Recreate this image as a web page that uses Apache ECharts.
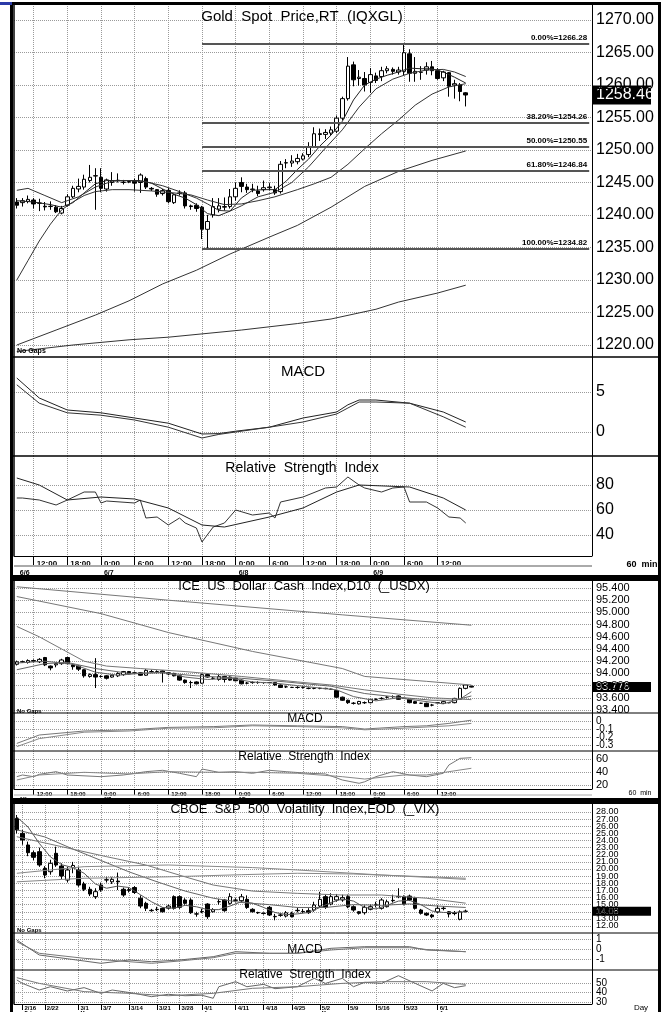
<!DOCTYPE html>
<html><head><meta charset="utf-8">
<script src="https://cdn.jsdelivr.net/npm/echarts@6/dist/echarts.min.js"></script>
<style>html,body{margin:0;padding:0;background:#fff}#c{width:666px;height:1012px}</style>
</head><body><div id="c"></div>
<script>
// ================= DATA =================
// ---- Gold (hourly) ----
const goldTickIdx  = [3,9,15,21,27,33,39,45,51,57,63,69,75];
const goldTickTime = ["12:00","18:00","0:00","6:00","12:00","18:00","0:00","6:00","12:00","18:00","0:00","6:00","12:00"];
const goldDateIdx  = [0,15,39,63];
const goldDateText = ["6/6","6/7","6/8","6/9"];
const goldYTicks = [1220,1270,5];
// [open, close, low, high]
const goldOHLC = [
[1242.0,1241.5,1241.0,1242.6],[1241.9,1242.2,1241.3,1242.6],[1242.1,1242.4,1241.8,1243.0],[1242.3,1241.7,1241.0,1242.6],
[1241.8,1241.85,1240.6,1242.5],[1241.35,1241.25,1240.7,1242.0],[1241.3,1241.35,1240.8,1242.1],[1241.2,1240.5,1240.3,1241.5],
[1240.3,1241.0,1240.1,1241.4],[1241.5,1242.8,1241.3,1243.2],[1242.8,1244.1,1242.6,1244.5],[1244.0,1244.4,1243.5,1245.6],
[1244.3,1245.5,1243.9,1246.2],[1245.3,1245.8,1245.0,1247.7],[1246.0,1246.05,1240.8,1247.2],[1245.8,1244.1,1243.5,1247.2],
[1244.0,1245.4,1243.6,1245.6],[1245.0,1245.3,1244.5,1246.6],[1245.3,1245.35,1245.0,1246.4],[1245.0,1245.05,1244.7,1245.4],
[1245.05,1245.15,1244.9,1245.3],[1245.2,1244.9,1243.6,1245.6],[1245.0,1246.15,1243.4,1246.4],[1245.6,1244.3,1244.0,1245.9],
[1244.1,1244.0,1243.7,1244.3],[1243.9,1243.2,1242.8,1244.0],[1243.3,1243.75,1243.0,1244.0],[1243.8,1242.05,1241.8,1244.2],
[1241.9,1243.1,1241.7,1243.3],[1243.4,1243.3,1243.0,1243.8],[1243.4,1241.4,1241.0,1243.7],[1241.4,1241.3,1240.8,1241.6],
[1241.5,1241.0,1240.5,1241.8],[1241.2,1237.8,1236.3,1241.4],[1237.8,1239.0,1234.82,1240.0],[1240.0,1241.3,1239.6,1242.6],
[1240.9,1241.4,1240.4,1242.6],[1241.2,1241.3,1240.7,1242.7],[1241.3,1242.8,1241.0,1244.0],[1242.8,1244.1,1242.2,1245.0],
[1245.0,1244.4,1243.5,1245.8],[1244.3,1243.9,1243.4,1244.8],[1243.9,1244.0,1243.5,1244.8],[1243.7,1243.3,1242.9,1244.5],
[1243.9,1244.2,1243.6,1245.3],[1244.2,1244.3,1243.8,1244.9],[1243.9,1243.4,1243.1,1244.5],[1243.6,1247.8,1243.3,1248.3],
[1248.0,1248.05,1247.2,1248.6],[1248.0,1248.3,1247.4,1249.2],[1248.2,1248.7,1247.8,1249.4],[1248.6,1249.1,1248.4,1249.5],
[1249.3,1250.5,1248.9,1251.2],[1250.5,1252.5,1250.3,1253.5],[1252.5,1252.4,1251.4,1253.3],[1252.4,1252.7,1251.7,1253.2],
[1252.6,1253.1,1252.2,1253.6],[1252.9,1254.9,1252.6,1255.3],[1254.9,1257.9,1254.6,1258.2],[1257.9,1262.9,1257.6,1264.3],
[1263.1,1260.8,1259.8,1263.6],[1261.0,1261.2,1259.9,1262.3],[1261.0,1260.0,1259.0,1262.0],[1260.4,1261.6,1258.8,1262.6],
[1261.4,1260.7,1260.3,1261.9],[1261.3,1262.2,1260.6,1262.8],[1262.2,1262.5,1261.8,1262.9],[1262.4,1262.1,1261.6,1262.7],
[1262.0,1262.3,1261.6,1262.8],[1262.1,1264.97,1261.5,1266.28],[1264.8,1261.8,1260.5,1265.5],[1261.8,1262.1,1260.5,1264.3],
[1261.95,1262.0,1260.8,1262.9],[1262.3,1262.8,1261.6,1263.5],[1262.8,1262.2,1261.5,1263.7],[1262.2,1261.0,1260.8,1262.6],
[1261.1,1262.0,1260.6,1262.2],[1261.9,1259.8,1258.2,1262.0],[1260.0,1260.2,1257.9,1260.8],[1260.0,1259.0,1257.5,1260.3],
[1258.8,1258.46,1256.7,1258.9]];
const goldLast = 1258.46;
const goldMa5 = [[0,1242.2],[3,1242.0],[6,1241.6],[8,1241.2],[10,1241.9],[12,1243.4],[14,1244.8],[16,1245.3],[19,1245.3],[22,1245.3],[24,1244.9],[26,1244.0],[28,1243.2],[30,1242.6],[32,1241.6],[34,1240.2],[36,1239.9],[38,1240.6],[40,1242.6],[42,1243.8],[44,1243.9],[46,1243.9],[48,1245.2],[50,1247.0],[52,1248.6],[54,1250.6],[56,1252.3],[58,1254.4],[60,1257.7],[62,1260.0],[64,1260.9],[66,1261.5],[68,1262.0],[70,1262.6],[72,1262.5],[74,1262.5],[76,1262.0],[78,1261.2],[80,1260.3]];
const goldMa10 = [[0,1243.8],[2,1244.1],[5,1243.0],[8,1241.9],[11,1242.8],[14,1244.3],[17,1245.2],[20,1245.3],[23,1245.1],[26,1244.5],[29,1243.6],[32,1242.6],[34,1241.7],[36,1240.7],[38,1240.6],[40,1241.4],[43,1242.8],[46,1243.5],[49,1245.0],[52,1247.4],[55,1250.3],[58,1253.1],[61,1256.6],[64,1259.4],[67,1260.9],[70,1261.8],[73,1262.3],[76,1262.4],[78,1262.0],[80,1261.3]];
const goldMa20 = [[0,1230.0],[2,1233.0],[4,1236.0],[6,1238.6],[8,1240.8],[10,1242.0],[12,1243.0],[14,1243.6],[17,1243.9],[20,1243.9],[24,1243.7],[28,1243.4],[31,1243.1],[34,1242.3],[37,1241.6],[40,1241.7],[43,1242.2],[46,1242.8],[50,1243.9],[53,1244.8],[56,1245.8],[59,1247.8],[62,1250.2],[65,1252.5],[68,1254.6],[71,1256.9],[74,1258.6],[77,1259.7],[80,1260.2]];
const goldMa50 = [[0,1220.0],[7,1222.3],[14,1224.6],[20,1226.8],[26,1229.4],[32,1231.5],[38,1234.0],[45,1236.6],[50,1238.4],[56,1241.2],[62,1244.4],[68,1246.7],[74,1248.4],[80,1249.85]];
const goldMa100 = [[0,1219.0],[10,1220.0],[20,1220.8],[27,1221.2],[40,1222.3],[50,1223.3],[56,1224.0],[64,1225.5],[68,1226.6],[75,1228.0],[80,1229.2]];
const fibPct  = ["0.00%","38.20%","50.00%","61.80%","100.00%"];
const fibVals = [1266.28,1254.26,1250.55,1246.84,1234.82];
const fibStartIdx = 33;
const goldMacd   = [[0,6.75],[4,4.25],[9,2.75],[15,2.4],[21,1.75],[27,1.1],[33,-0.25],[36,-0.2],[39,0.1],[45,0.6],[51,1.75],[57,2.5],[59,3.4],[61,4.0],[64,4.0],[70,3.6],[76,2.5],[80,1.25]];
const goldSignal = [[0,5.9],[4,3.6],[9,2.4],[15,2.1],[21,1.5],[27,0.6],[31,-0.3],[33,-0.75],[36,-0.3],[39,0.0],[45,0.6],[51,1.25],[57,2.25],[59,3.0],[61,3.75],[64,3.75],[70,3.6],[76,1.9],[80,0.6]];
const goldRsi = [[0,69.6],[1,69.6],[4,68],[7,64],[9,68],[12,74.4],[14,74.4],[15,65.6],[16,67.2],[21,65.6],[22,68],[23,53.6],[25,54.4],[27,48],[29,53.6],[30,49.6],[32,45.6],[33,34.4],[35,46.4],[37,49.6],[39,60],[42,56],[45,57.6],[46,53.6],[47,66.4],[51,70.4],[55,77.6],[57,78.4],[59,86.4],[61,80],[62,77.6],[65,74.4],[67,77.6],[69,78.4],[70,66.4],[73,66.4],[75,61.6],[77,54.4],[79,53.6],[80,49.6]];
const goldRsiMa = [[0,85.6],[4,80],[9,68],[15,70.4],[21,68.8],[27,61.6],[33,48],[37,46.4],[45,54.4],[51,61.6],[57,74.4],[61,80],[70,78.4],[76,69.6],[80,60]];

// ---- US Dollar Index (hourly) ----
const usdOHLC = [
[94.15,94.19,94.13,94.21],[94.19,94.19,94.17,94.21],[94.18,94.21,94.16,94.23],[94.21,94.2,94.18,94.23],[94.19,94.23,94.17,94.25],
[94.26,94.14,94.12,94.27],[94.12,94.09,94.05,94.13],[94.14,94.16,94.1,94.17],[94.16,94.22,94.14,94.24],[94.26,94.16,94.15,94.27],
[94.14,94.11,94.06,94.15],[94.12,94.07,94.04,94.13],[94.06,93.96,93.93,94.07],[93.95,93.98,93.93,94.0],[93.98,93.94,93.76,94.25],
[93.95,93.95,93.93,93.97],[93.96,93.92,93.9,93.97],[93.94,93.97,93.93,93.98],[93.96,94.0,93.94,94.02],[93.98,94.03,93.96,94.04],
[94.03,93.99,93.98,94.04],[94.01,94.01,93.99,94.03],[94.01,93.97,93.96,94.02],[93.97,94.05,93.96,94.07],[94.03,94.03,94.01,94.06],
[94.03,94.03,94.0,94.05],[94.04,94.01,93.85,94.05],[94.01,93.99,93.97,94.02],[94.0,93.96,93.95,94.01],[93.96,93.89,93.88,93.97],
[93.89,93.85,93.83,93.9],[93.85,93.85,93.76,93.88],[93.86,93.83,93.82,93.87],[93.84,93.98,93.83,94.0],[93.98,93.94,93.93,93.99],
[93.92,93.92,93.9,93.94],[93.9,93.95,93.88,93.98],[93.95,93.9,93.85,93.96],[93.94,93.89,93.88,93.95],[93.92,93.88,93.87,93.93],
[93.89,93.83,93.82,93.9],[93.84,93.84,93.82,93.86],[93.85,93.85,93.83,93.87],[93.85,93.85,93.83,93.87],[93.85,93.85,93.83,93.86],
[93.85,93.85,93.84,93.86],[93.85,93.81,93.8,93.86],[93.81,93.77,93.76,93.82],[93.78,93.78,93.76,93.8],[93.77,93.77,93.76,93.78],
[93.77,93.77,93.75,93.79],[93.77,93.77,93.75,93.79],[93.755,93.755,93.74,93.77],[93.755,93.755,93.74,93.77],[93.755,93.755,93.74,93.765],
[93.755,93.75,93.74,93.765],[93.74,93.74,93.73,93.75],[93.72,93.61,93.6,93.73],[93.61,93.56,93.55,93.62],[93.56,93.52,93.5,93.57],
[93.51,93.51,93.49,93.53],[93.5,93.54,93.49,93.55],[93.52,93.52,93.5,93.54],[93.52,93.575,93.51,93.58],[93.575,93.575,93.56,93.59],
[93.59,93.59,93.57,93.61],[93.61,93.61,93.59,93.63],[93.62,93.62,93.6,93.64],[93.63,93.575,93.57,93.64],[93.59,93.59,93.58,93.6],
[93.575,93.52,93.51,93.58],[93.537,93.51,93.5,93.55],[93.51,93.51,93.5,93.52],[93.51,93.455,93.45,93.52],[93.48,93.48,93.46,93.5],
[93.52,93.52,93.51,93.53],[93.51,93.537,93.5,93.55],[93.52,93.52,93.51,93.53],[93.52,93.59,93.51,93.6],[93.575,93.755,93.57,93.77],
[93.755,93.81,93.74,93.82],[93.79,93.776,93.77,93.80]];
const usdLast = 93.776;
const usdMa10  = [[0,94.17],[5,94.2],[10,94.15],[14,94.02],[18,93.97],[22,94.0],[26,94.02],[30,93.94],[34,93.9],[38,93.92],[42,93.86],[46,93.84],[50,93.8],[54,93.76],[57,93.73],[60,93.62],[64,93.55],[68,93.6],[72,93.55],[76,93.5],[79,93.58],[81,93.7]];
const usdMa20  = [[0,94.06],[5,94.16],[9,94.18],[14,94.08],[20,94.0],[26,94.01],[32,93.96],[40,93.92],[48,93.86],[56,93.79],[62,93.67],[68,93.61],[74,93.56],[78,93.56],[81,93.63]];
const usdMa50  = [[0,94.77],[4,94.6],[8,94.4],[12,94.2],[16,94.12],[22,94.08],[30,94.03],[40,93.95],[50,93.86],[56,93.81],[62,93.73],[68,93.66],[74,93.6],[81,93.57]];
const usdMa100 = [[0,95.26],[15,94.98],[27,94.67],[42,94.36],[58,94.08],[62,93.95],[73,93.87],[81,93.81]];
const usdMa200 = [[0,95.42],[27,95.2],[58,94.96],[81,94.79]];
const usdMacd   = [[0,-0.28],[4,-0.175],[12,-0.125],[20,-0.11],[27,-0.08],[35,-0.07],[42,-0.05],[50,-0.06],[58,-0.07],[62,-0.1],[69,-0.07],[73,-0.06],[77,-0.03],[81,0.01]];
const usdSignal = [[0,-0.32],[4,-0.22],[12,-0.14],[20,-0.125],[27,-0.09],[35,-0.085],[42,-0.06],[50,-0.07],[58,-0.085],[62,-0.11],[69,-0.09],[77,-0.06],[81,-0.03]];
const usdRsi   = [[0,32.8],[1,35.4],[3,32.8],[4,36.4],[7,40.5],[9,35.4],[15,32.8],[19,35.4],[23,40.5],[26,42.6],[29,38],[32,32.8],[33,44.6],[36,39.5],[39,40.5],[42,38],[45,42.6],[48,40.5],[52,38],[55,37],[58,27.7],[61,22.6],[62,25],[64,32.8],[67,40.5],[70,35.4],[73,32.8],[76,38],[77,50.8],[79,61],[81,62]];
const usdRsiMa = [[0,27.7],[4,35.4],[12,39.5],[20,37],[27,40.5],[35,39.5],[42,39.5],[50,38],[58,32.8],[62,29.2],[69,35.4],[73,35.4],[77,40.5],[81,45.7]];

// ---- VIX (daily) ----
const vixDates = ["2/12","2/16","2/17","2/18","2/19","2/22","2/23","2/24","2/25","2/26","2/29","3/1","3/2","3/3","3/4","3/7","3/8","3/9","3/10","3/11","3/14","3/15","3/16","3/17","3/18","3/21","3/22","3/23","3/24","3/28","3/29","3/30","3/31","4/1","4/4","4/5","4/6","4/7","4/8","4/11","4/12","4/13","4/14","4/15","4/18","4/19","4/20","4/21","4/22","4/25","4/26","4/27","4/28","4/29","5/2","5/3","5/4","5/5","5/6","5/9","5/10","5/11","5/12","5/13","5/16","5/17","5/18","5/19","5/20","5/23","5/24","5/25","5/26","5/27","5/31","6/1","6/2","6/3","6/6","6/7","6/8"];
const vixTickDates = ["2/16","2/22","3/1","3/7","3/14","3/21","3/28","4/1","4/11","4/18","4/25","5/2","5/9","5/16","5/23","6/1"];
const vixMonthAt   = {"2/16":"Feb","3/1":"Mar","4/1":"Apr","5/2":"May","6/1":"Jun"};
const vixOHLC = [
[27.11,25.47,25.0,27.58],[25.0,24.07,23.4,25.47],[23.37,22.29,21.8,23.84],[22.29,21.64,21.2,22.6],[22.43,20.56,20.3,23.0],
[20.09,19.16,18.7,20.4],[19.62,20.8,19.2,21.3],[22.2,20.56,20.3,23.13],[20.42,19.02,18.6,20.8],[18.45,19.86,18.1,20.3],
[20.2,20.5,19.4,21.0],[19.86,17.75,17.5,20.33],[17.9,17.15,16.9,18.2],[17.15,16.49,16.2,17.5],[16.12,16.82,15.8,17.3],
[17.75,17.05,16.8,18.1],[18.45,18.5,18.1,18.9],[18.2,18.55,17.9,18.9],[18.3,18.2,17.05,19.5],[17.15,16.35,16.1,17.4],
[17.1,17.0,16.7,17.4],[17.4,16.7,16.5,17.6],[15.9,14.8,14.5,16.3],[15.18,14.48,14.1,15.4],[14.15,14.2,14.0,14.4],
[14.3,14.35,14.1,14.7],[14.48,14.0,13.9,14.6],[14.5,14.8,14.3,15.0],[16.12,14.48,14.3,16.3],[16.12,14.62,14.4,16.3],
[15.65,15.18,15.0,15.9],[15.65,13.87,13.7,15.9],[13.7,13.68,13.3,14.0],[14.0,14.05,13.8,14.4],[15.08,13.31,13.0,15.2],
[14.0,14.3,13.9,14.5],[15.4,15.42,15.0,15.8],[15.65,14.15,14.0,15.8],[15.18,16.12,15.0,16.6],[15.6,15.65,15.3,15.9],
[15.55,16.1,15.3,16.5],[15.74,14.6,14.4,16.3],[14.34,14.0,13.9,14.5],[13.9,13.85,13.7,14.0],[13.8,13.75,13.6,13.9],
[14.62,13.54,13.4,14.8],[13.3,13.35,12.8,13.7],[13.55,13.5,13.3,13.8],[13.4,13.85,13.2,14.1],[13.78,13.31,13.2,14.0],
[14.15,14.2,13.9,14.6],[14.05,14.0,13.8,14.4],[14.15,13.87,13.7,14.5],[14.24,14.94,14.0,15.4],[14.8,15.74,14.6,16.8],
[16.12,14.62,14.4,16.4],[15.08,16.12,14.9,16.6],[15.65,16.12,15.4,16.5],[15.65,15.98,15.4,16.4],[16.12,14.71,14.5,16.4],
[14.71,14.24,14.0,14.9],[14.0,13.78,13.6,14.1],[13.87,14.62,13.6,14.9],[14.34,14.71,14.2,15.0],[14.95,14.97,14.6,15.4],
[14.48,15.65,14.3,15.9],[14.71,15.4,14.6,15.7],[15.55,15.6,15.3,16.4],[16.1,16.15,15.9,17.3],[16.12,15.08,14.9,16.3],
[16.2,15.65,15.5,16.4],[15.9,14.48,14.3,16.1],[14.24,13.78,13.6,14.4],[13.78,13.54,13.4,13.9],[13.54,13.31,13.1,13.7],
[13.97,14.48,13.8,14.9],[14.5,14.45,14.2,14.8],[14.0,13.68,13.2,14.1],[13.8,13.75,13.5,14.1],[12.94,13.99,12.8,14.2],
[14.05,14.08,13.9,14.3]];
const vixLast = 14.08;
const vixMa5   = [[0,27.3],[2,25.9],[4,23.6],[6,21.7],[8,20.6],[10,20.2],[12,19.4],[14,17.9],[16,17.3],[18,17.6],[20,17.4],[22,16.4],[24,15.4],[26,14.6],[28,14.5],[30,14.9],[32,14.7],[34,14.3],[36,14.3],[38,14.8],[40,15.4],[42,15.2],[44,14.6],[46,13.9],[48,13.6],[50,13.7],[52,13.9],[54,14.6],[56,15.3],[58,15.8],[60,15.5],[62,14.6],[64,14.4],[66,14.9],[68,15.5],[70,15.6],[72,15.0],[74,14.1],[76,13.9],[78,13.9],[80,14.0]];
const vixMa20  = [[0,25.5],[5,24.5],[10,22.8],[15,21.2],[20,19.6],[25,18.2],[30,16.9],[35,15.9],[40,15.3],[45,15.0],[50,14.6],[55,14.6],[60,15.0],[65,14.9],[70,15.1],[75,14.8],[80,14.6]];
const vixMa50  = [[0,24.53],[8,23.13],[16,21.73],[23,20.56],[30,18.9],[35,17.75],[42,16.9],[50,16.58],[58,16.35],[65,16.35],[73,15.9],[80,15.2]];
const vixMa100 = [[0,19.4],[12,20.33],[27,20.56],[42,20.2],[50,19.86],[65,19.16],[80,18.55]];
const vixMa200 = [[0,18.2],[12,18.7],[27,18.9],[40,19.2],[50,19.4],[60,19.3],[70,19.0],[80,18.7]];
const vixMacd   = [[0,0.9],[4,-0.6],[12,-1.2],[15,-1.43],[20,-1.1],[24,-1.27],[29,-1.1],[35,-0.77],[39,-0.27],[45,-0.43],[50,-0.43],[56,0.07],[62,0.23],[70,0.23],[73,-0.1],[80,-0.27]];
const vixSignal = [[0,0.73],[4,-0.43],[12,-0.93],[20,-1.27],[24,-1.43],[29,-1.2],[35,-0.87],[39,-0.43],[45,-0.43],[50,-0.43],[56,-0.1],[62,0.13],[70,0.13],[73,-0.05],[80,-0.27]];
const vixRsi   = [[0,53.2],[1,49.6],[4,42.6],[6,46.1],[9,41.6],[12,45.1],[15,39.1],[17,42.6],[21,39.1],[24,35.6],[27,38.1],[30,36.6],[33,37.1],[35,33.9],[36,46.1],[39,51.4],[41,46.1],[44,48.6],[46,44],[50,46.1],[53,54.9],[55,49.6],[58,54.9],[60,46.1],[62,50.7],[65,49.6],[68,57.7],[71,49.6],[74,41.6],[76,49.6],[78,45.1],[80,47.2]];
const vixRsiMa = [[0,55.6],[4,49.6],[12,40.9],[20,39.1],[27,36.6],[35,39.1],[42,44.4],[50,46.1],[58,49.6],[65,51.4],[73,51.4],[80,48.6]];

// ================= BUILD =================
const SLOTS = 103;
const SANS = "'Liberation Sans',Arial,sans-serif";
const hourCats = Array.from({length: SLOTS}, (_, i) => 'h' + i);
const vixCats = vixDates.concat(Array.from({length: SLOTS - vixDates.length}, (_, i) => 'e' + i));
const goldTickSet = new Set(goldTickIdx);
const goldLabelSet = new Set(goldTickIdx.concat(goldDateIdx));
const vixTickIdx = vixTickDates.map(d => vixDates.indexOf(d));
const vixTickSet = new Set(vixTickIdx);

const grids = [], xAxes = [], yAxes = [], series = [];
const GRIDLINE = {color: '#9a9a9a', type: 'dotted', width: 1};

function addGrid(top, height) {
  grids.push({left: 14, right: 74, top, height, containLabel: false, outerBoundsMode: 'none'});
  return grids.length - 1;
}
function addX(gi, cats, extra) {
  xAxes.push(Object.assign({type: 'category', gridIndex: gi, data: cats, boundaryGap: true,
    axisLine: {show: false}, axisTick: {show: false}, axisLabel: {show: false}, splitLine: {show: false}}, extra || {}));
}
function addY(gi, extra) {
  yAxes.push(Object.assign({type: 'value', gridIndex: gi, position: 'right',
    axisLine: {show: false, onZero: false}, axisTick: {show: false}, splitLine: {show: false}, axisLabel: {show: false}}, extra || {}));
}
function bgPanel(top, height, cats, tickSet, bottomAxis) {
  const gi = addGrid(top, height);
  const ex = {splitLine: {show: true, alignWithLabel: true, interval: (i) => tickSet.has(i), lineStyle: GRIDLINE}};
  if (bottomAxis) Object.assign(ex, bottomAxis);
  addX(gi, cats, ex);
  addY(gi, {min: 0, max: 1});
  return gi;
}
// hideEnds: the axis range is padded by one step on each side; the padding ticks get no label or line
function dataPanel(top, height, cats, ymin, ymax, step, fmt, font, hideEnds) {
  const gi = addGrid(top, height);
  addX(gi, cats);
  addY(gi, {min: ymin, max: ymax, interval: step,
    splitLine: {show: true, lineStyle: GRIDLINE, showMinLine: !hideEnds, showMaxLine: !hideEnds},
    axisLabel: {show: true, margin: 4, showMinLabel: !hideEnds, showMaxLabel: !hideEnds, hideOverlap: false,
      formatter: fmt, color: '#000', fontFamily: font.family, fontSize: font.size}});
  return gi;
}
function candle(gi, data, w, extra) {
  series.push(Object.assign({type: 'candlestick', xAxisIndex: gi, yAxisIndex: gi, data, barWidth: w,
    itemStyle: {color: '#fff', color0: '#000', borderColor: '#000', borderColor0: '#000', borderWidth: 1},
    animation: false, silent: true, z: 3}, extra || {}));
}
function line(gi, data, color) {
  series.push({type: 'line', xAxisIndex: gi, yAxisIndex: gi, data, symbol: 'none', showSymbol: false,
    clip: false, connectNulls: true, lineStyle: {color, width: 1}, animation: false, silent: true, z: 4});
}
function timeAxis(tickLen, tSize, dSize, tLH, dLH) {
  return {
    axisLine: {show: true, onZero: false, lineStyle: {color: '#000', width: 1}},
    axisTick: {show: true, alignWithLabel: true, length: tickLen, interval: (i) => goldTickSet.has(i), lineStyle: {color: '#000'}},
    axisLabel: {show: true, interval: (i) => goldLabelSet.has(i), align: 'left', margin: 2, padding: [0, 0, 0, 3],
      formatter: (v, i) => {
        const t = goldTickIdx.indexOf(i), d = goldDateIdx.indexOf(i);
        return '{t|' + (t >= 0 ? goldTickTime[t] : ' ') + '}' + (d >= 0 ? '\n{d|' + goldDateText[d] + '}' : '');
      },
      rich: {t: {fontSize: tSize, fontWeight: 'bold', fontFamily: SANS, color: '#000', lineHeight: tLH},
             d: {fontSize: dSize, fontWeight: 'bold', fontFamily: SANS, color: '#000', lineHeight: dLH}}}
  };
}

// ---- Gold panel ----
const goldFont = {family: SANS, size: 16};
bgPanel(4, 353, hourCats, goldTickSet);
const gP = dataPanel(20, 325, hourCats, goldYTicks[0], goldYTicks[1], goldYTicks[2], v => v.toFixed(2), goldFont);
bgPanel(357, 99, hourCats, goldTickSet);
const gM = dataPanel(392, 40, hourCats, 0, 5, 5, v => String(v), goldFont);
bgPanel(456, 100, hourCats, goldTickSet, timeAxis(10, 8, 7, 11, 9));
const gR = dataPanel(485, 50, hourCats, 40, 80, 20, v => String(v), goldFont);

candle(gP, goldOHLC, 4, {
  markLine: {silent: true, symbol: ['none', 'none'], animation: false,
    lineStyle: {color: '#555', width: 2, type: 'solid'},
    label: {show: true, position: 'insideEndTop', formatter: '{b}', fontSize: 8, fontWeight: 'bold',
      fontFamily: SANS, color: '#000', distance: [2, 2]},
    data: fibVals.map((v, k) => [{name: fibPct[k] + '=' + v.toFixed(2), coord: [fibStartIdx, v]}, {coord: [SLOTS - 1, v]}])}
});
line(gP, goldMa5, '#222');
line(gP, goldMa10, '#333');
line(gP, goldMa20, '#333');
line(gP, goldMa50, '#333');
line(gP, goldMa100, '#333');
line(gM, goldMacd, '#222');
line(gM, goldSignal, '#333');
line(gR, goldRsi, '#333');
line(gR, goldRsiMa, '#222');

// ---- USDX panel ----
bgPanel(580, 133, hourCats, goldTickSet);
const uP = dataPanel(588, 122, hourCats, 93.4, 95.4, 0.2, v => v.toFixed(3), {family: SANS, size: 11});
bgPanel(713, 38, hourCats, goldTickSet);
const uM = dataPanel(713, 40, hourCats, -0.4, 0.1, 0.1, v => (Math.abs(v) < 1e-9 ? '0' : v.toFixed(1)), {family: SANS, size: 10}, true);
bgPanel(751, 38, hourCats, goldTickSet, timeAxis(6, 6, 5, 6, 5));
const uR = dataPanel(759, 26, hourCats, 20, 60, 20, v => String(v), {family: SANS, size: 11});

candle(uP, usdOHLC, 4);
line(uP, usdMa10, '#666');
line(uP, usdMa20, '#666');
line(uP, usdMa50, '#777');
line(uP, usdMa100, '#777');
line(uP, usdMa200, '#777');
line(uM, usdMacd, '#777');
line(uM, usdSignal, '#888');
line(uR, usdRsi, '#777');
line(uR, usdRsiMa, '#888');

// ---- VIX panel ----
const vixBottom = {
  axisLine: {show: true, onZero: false, lineStyle: {color: '#000', width: 1}},
  axisTick: {show: true, alignWithLabel: true, length: 6, interval: (i) => vixTickSet.has(i), lineStyle: {color: '#000'}},
  axisLabel: {show: true, interval: (i) => vixTickSet.has(i), align: 'left', margin: 1, padding: [0, 0, 0, 2],
    formatter: (v) => '{t|' + v + '}' + (vixMonthAt[v] ? '\n{d|' + vixMonthAt[v] + '}' : ''),
    rich: {t: {fontSize: 6, fontWeight: 'bold', fontFamily: SANS, color: '#000', lineHeight: 6},
           d: {fontSize: 5, fontWeight: 'bold', fontFamily: SANS, color: '#000', lineHeight: 5}}}
};
bgPanel(803, 130, vixCats, vixTickSet);
const vP = dataPanel(804.875, 128.25, vixCats, 11, 29, 1, v => v.toFixed(2), {family: SANS, size: 9}, true);
bgPanel(933, 37, vixCats, vixTickSet);
const vM = dataPanel(939, 20, vixCats, -1, 1, 1, v => String(v), {family: SANS, size: 10});
bgPanel(970, 34, vixCats, vixTickSet, vixBottom);
const vR = dataPanel(973.5, 38, vixCats, 20, 60, 10, v => String(v), {family: SANS, size: 10}, true);

candle(vP, vixOHLC, 4);
line(vP, vixMa5, '#555');
line(vP, vixMa20, '#666');
line(vP, vixMa50, '#777');
line(vP, vixMa100, '#888');
line(vP, vixMa200, '#888');
line(vM, vixMacd, '#666');
line(vM, vixSignal, '#777');
line(vR, vixRsi, '#666');
line(vR, vixRsiMa, '#777');

// ---- static decorations ----
function txt(x, y, s, size, family, opts) {
  return {type: 'text', x, y, silent: true, z: 50,
    style: Object.assign({text: s, fontSize: size, fontFamily: family, fill: '#000', align: 'center', verticalAlign: 'middle'}, opts || {})};
}
function ln(x1, y1, x2, y2, color, w) {
  return {type: 'line', silent: true, z: 40, shape: {x1, y1, x2, y2}, style: {stroke: color, lineWidth: w}};
}
function box(x, y, w, h, lw) {
  return {type: 'rect', silent: true, z: 45, shape: {x, y, width: w, height: h}, style: {fill: 'none', stroke: '#000', lineWidth: lw}};
}
const graphics = [
  {type: 'rect', silent: true, z: 60, shape: {x: 0, y: 2, width: 12, height: 3}, style: {fill: '#2b3aa8'}},
  box(11.5, 3.5, 648, 573, 3),
  box(11.5, 579.5, 648, 220, 3),
  box(11.5, 802.5, 648, 212, 3),
  ln(14, 4, 14, 556, '#000', 1.5), ln(14, 580, 14, 789, '#000', 1.5), ln(14, 803, 14, 1004, '#000', 1.5),
  ln(592.5, 4, 592.5, 556, '#000', 1), ln(592.5, 580, 592.5, 789, '#000', 1), ln(592.5, 803, 592.5, 1004, '#000', 1),
  ln(11, 357, 660, 357, '#000', 1.5), ln(11, 456, 660, 456, '#000', 1.5),
  ln(11, 713, 660, 713, '#000', 1), ln(11, 751, 660, 751, '#000', 1),
  ln(11, 933, 660, 933, '#000', 1), ln(11, 970, 660, 970, '#000', 1),
  ln(14, 566, 592, 566, '#aaa', 2), ln(14, 795, 592, 795, '#aaa', 1),
  txt(302, 17, 'Gold  Spot  Price,RT  (IQXGL)', 15, SANS),
  txt(303, 372, 'MACD', 15, SANS),
  txt(302, 468, 'Relative  Strength  Index', 14, SANS),
  txt(304, 586, 'ICE  US  Dollar  Cash  Index,D10  (_USDX)', 13, SANS),
  txt(305, 719, 'MACD', 12, SANS),
  txt(304, 757, 'Relative  Strength  Index', 12, SANS),
  txt(305, 809, 'CBOE  S&P  500  Volatility  Index,EOD  (_VIX)', 13, SANS),
  txt(305, 950, 'MACD', 12, SANS),
  txt(305, 975, 'Relative  Strength  Index', 12, SANS),
  txt(17, 351, 'No Gaps', 7, SANS, {fontWeight: 'bold', align: 'left'}),
  txt(17, 711, 'No Gaps', 6, SANS, {fontWeight: 'bold', align: 'left'}),
  txt(17, 930, 'No Gaps', 6, SANS, {fontWeight: 'bold', align: 'left'}),
  txt(642, 565, '60  min', 9, SANS, {fontWeight: 'bold'}),
  txt(640, 793, '60  min', 7, SANS),
  txt(641, 1008, 'Day', 8, SANS)
];

const chart = echarts.init(document.getElementById('c'), null, {renderer: 'canvas'});
chart.setOption({
  animation: false, backgroundColor: '#fff',
  grid: grids, xAxis: xAxes, yAxis: yAxes, series
});

// last-price tags placed through the y scales
function lastTag(gi, value, text, size, h) {
  const y = chart.convertToPixel({yAxisIndex: gi}, value);
  return {type: 'group', silent: true, z: 70, children: [
    {type: 'rect', shape: {x: 593, y: y - h / 2, width: 58, height: h}, style: {fill: '#000'}},
    {type: 'text', x: 596, y: y, style: {text, fontSize: size, fontFamily: SANS, fill: '#fff', align: 'left', verticalAlign: 'middle'}}
  ]};
}
graphics.push(lastTag(gP, goldLast, goldLast.toFixed(2), 16, 19));
graphics.push(lastTag(uP, usdLast, usdLast.toFixed(3), 11, 10));
graphics.push(lastTag(vP, vixLast, vixLast.toFixed(2), 9, 9));
chart.setOption({graphic: graphics});
</script></body></html>
